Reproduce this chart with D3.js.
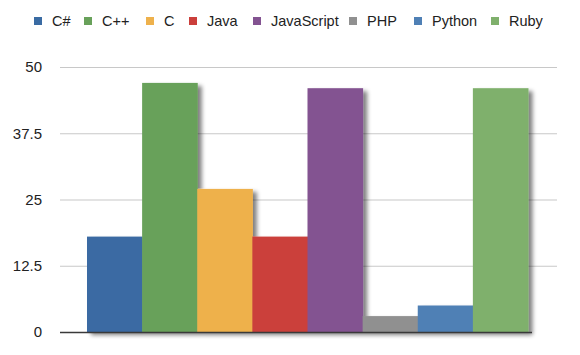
<!DOCTYPE html>
<html>
<head>
<meta charset="utf-8">
<script src="https://cdn.jsdelivr.net/npm/d3@7"></script>
<style>
body { margin: 0; background: #fff; }
svg text { font-family: "Liberation Sans", Arial, sans-serif; fill: #222; }
.grid line { stroke: #c8c8c8; stroke-width: 1.2; }
.grid path { display: none; }
</style>
</head>
<body>
<div id="chart"></div>
<script>
// chart data
var languages = ["C#", "C++", "C", "Java", "JavaScript", "PHP", "Python", "Ruby"];
var values = [18, 47, 27, 18, 46, 3, 5, 46];
var colors = ["#3a6ba3", "#68a15a", "#eeb14c", "#cb3f3b", "#835391", "#909090", "#4f80b5", "#7fb06c"];
var yTicks = [0, 12.5, 25, 37.5, 50];
var legendX = [34, 84, 146, 189, 253, 349, 414, 491];

var W = 580, H = 355;
var svg = d3.select("#chart").append("svg")
	.attr("width", W)
	.attr("height", H);

// drop shadow for the bars
var defs = svg.append("defs");
var f = defs.append("filter").attr("id", "shadow")
	.attr("x", "-20%").attr("y", "-10%").attr("width", "150%").attr("height", "130%");
f.append("feGaussianBlur").attr("in", "SourceAlpha").attr("stdDeviation", 2.2).attr("result", "blur");
f.append("feOffset").attr("in", "blur").attr("dx", 4).attr("dy", 3).attr("result", "off");
f.append("feComponentTransfer").attr("in", "off").attr("result", "soft")
	.append("feFuncA").attr("type", "linear").attr("slope", 0.5);
var merge = f.append("feMerge");
merge.append("feMergeNode").attr("in", "soft");
merge.append("feMergeNode").attr("in", "SourceGraphic");

var x = d3.scaleBand()
	.domain(languages)
	.range([87, 528])
	.padding(0);

var y = d3.scaleLinear()
	.domain([0, 50])
	.range([332, 67]);

// gridlines
svg.append("g")
	.attr("class", "grid")
	.attr("transform", "translate(60,0)")
	.call(d3.axisRight(y).tickValues(yTicks.slice(1)).tickSize(497).tickFormat(""));

// y labels
svg.append("g")
	.selectAll("text")
	.data(yTicks)
	.enter().append("text")
	.attr("x", 42)
	.attr("y", function(d) { return y(d); })
	.attr("dy", "0.35em")
	.attr("text-anchor", "end")
	.style("font-size", "15px")
	.text(function(d) { return d; });

// bars
svg.append("g")
	.attr("filter", "url(#shadow)")
	.selectAll("rect")
	.data(values)
	.enter().append("rect")
	.attr("x", function(d, i) { return x(languages[i]); })
	.attr("width", x.bandwidth() + 0.5)
	.attr("y", function(d) { return y(d); })
	.attr("height", function(d) { return y(0) - y(d); })
	.attr("fill", function(d, i) { return colors[i]; });

// baseline
svg.append("line")
	.attr("x1", 60).attr("x2", 532)
	.attr("y1", y(0) + 0.5).attr("y2", y(0) + 0.5)
	.attr("stroke", "#3a3a3a")
	.attr("stroke-width", 1.5);

// legend
var leg = svg.append("g").selectAll("g")
	.data(languages)
	.enter().append("g")
	.attr("transform", function(d, i) { return "translate(" + legendX[i] + ",17)"; });
leg.append("rect")
	.attr("width", 8).attr("height", 8)
	.attr("fill", function(d, i) { return colors[i]; });
leg.append("text")
	.attr("x", 18)
	.attr("y", 9)
	.style("font-size", "14.5px")
	.text(function(d) { return d; });
</script>
</body>
</html>
